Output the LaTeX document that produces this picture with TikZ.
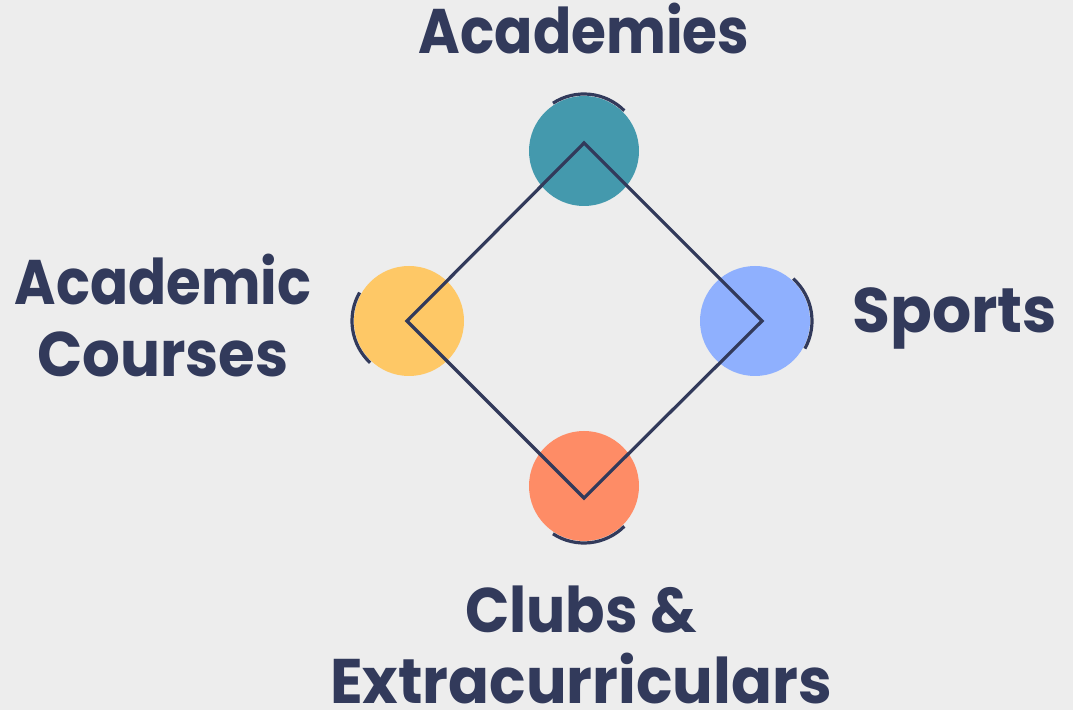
\documentclass[tikz,border=0pt]{standalone}
\usepackage{fontspec}
\usepackage{graphicx}
\setmainfont{Poppins}
\definecolor{bg}{HTML}{EDEDED}
\definecolor{navy}{HTML}{323A5B}
\definecolor{cteal}{HTML}{4499AD}
\definecolor{cyellow}{HTML}{FEC866}
\definecolor{cblue}{HTML}{8FB0FE}
\definecolor{corange}{HTML}{FE8C66}
\newcommand{\sq}[2]{\scalebox{#1}[1]{#2}}
\tikzset{
  dot/.style={circle, minimum size=110pt, inner sep=0pt, draw=none},
  lab/.style={text=navy, font=\fontsize{63}{72}\selectfont\bfseries, inner sep=0pt, anchor=base},
  edge/.style={draw=navy, line width=3.2pt, line join=miter},
  rim/.style={draw=navy, line width=3.2pt}
}
\begin{document}
\begin{tikzpicture}[x=1pt,y=1pt]
\fill[bg] (0,0) rectangle (1073,710);
\useasboundingbox (0,0) rectangle (1073,710);
\node[dot, fill=cteal] (acad) at (584,559) {};
\node[dot, fill=cyellow] (courses) at (409,389) {};
\node[dot, fill=cblue] (sports) at (755,389) {};
\node[dot, fill=corange] (clubs) at (584,224) {};
\coordinate (vt) at (584,567);
\coordinate (vl) at (407,389);
\coordinate (vr) at (762,389);
\coordinate (vb) at (584,212);
\draw[edge] (vt) -- (vr) -- (vb) -- (vl) -- cycle;
\draw[rim] (acad.center) ++(45:57) arc[start angle=45, end angle=123, radius=57];
\draw[rim] (courses.center) ++(150:57) arc[start angle=150, end angle=227, radius=57];
\draw[rim] (sports.center) ++(-29:57) arc[start angle=-29, end angle=48, radius=57];
\draw[rim] (clubs.center) ++(237:57) arc[start angle=237, end angle=315, radius=57];
\node[lab] (tacad) at (584,656) {\sq{0.898}{Academies}};
\node[lab] (tcourses1) at (163,405) {\sq{0.892}{Academic}};
\node[lab] (tcourses2) at (163,333) {\sq{0.943}{Courses}};
\node[lab] (tsports) at (955,377) {\sq{0.977}{Sports}};
\node[lab] (tclubs1) at (581,78) {\sq{0.924}{Clubs \&}};
\node[lab] (tclubs2) at (581,7) {\sq{0.958}{Extracurriculars}};
\end{tikzpicture}
\end{document}
